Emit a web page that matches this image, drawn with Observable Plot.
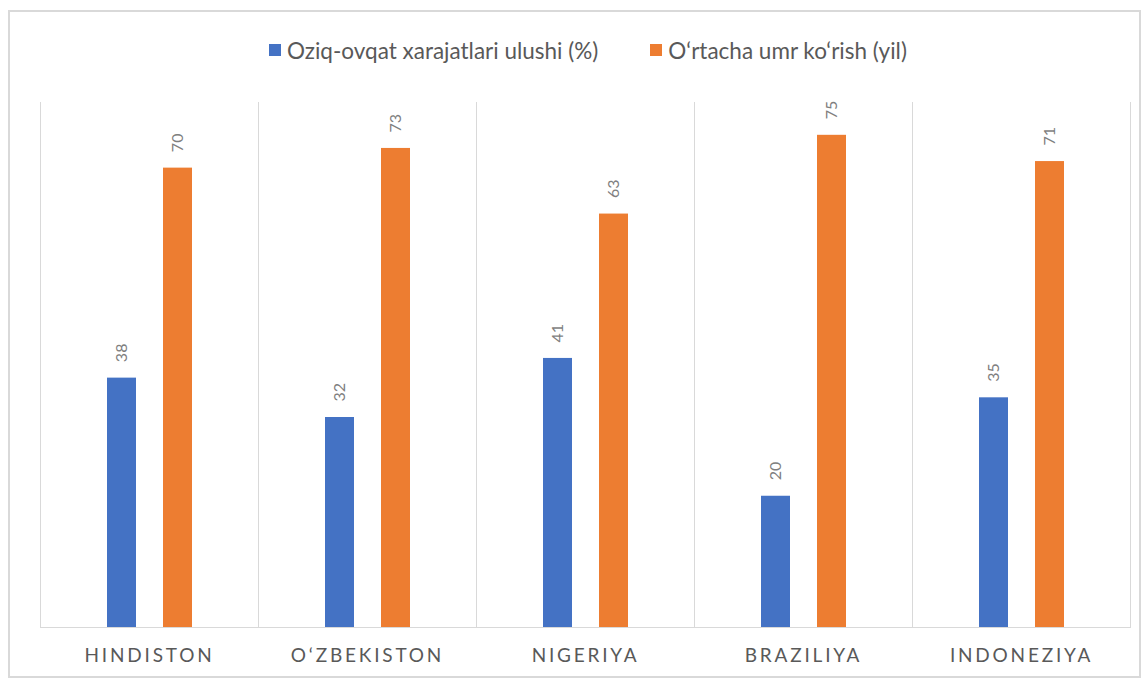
<!DOCTYPE html>
<html>
<head>
<meta charset="utf-8">
<script src="https://cdn.jsdelivr.net/npm/d3@7"></script>
<script src="https://cdn.jsdelivr.net/npm/@observablehq/plot@0.6"></script>
<style>
  html, body { margin: 0; padding: 0; background: #fff; }
  body { width: 1147px; height: 679px; position: relative; overflow: hidden; font-family: Lato, "Noto Sans", sans-serif; }
  #frame { position: absolute; left: 8px; top: 10px; width: 1133px; height: 668px; box-sizing: border-box; border: 2px solid #d9d9d9; }
  #legend { position: absolute; left: 269px; top: 35px; height: 30px; display: flex; align-items: center; font-size: 22.5px; color: #595959; white-space: nowrap; }
  #legend .item { display: flex; align-items: center; margin-right: 52px; }
  #legend .sw { width: 12px; height: 12px; margin-right: 6px; }
  #chart { position: absolute; left: 0; top: 80px; }
  #chart g[aria-label="fx-axis tick label"] text { letter-spacing: 2.8px; }
</style>
</head>
<body>
<div id="frame"></div>
<div id="legend"></div>
<div id="chart"></div>
<script>
const countries = ["HINDISTON", "O‘ZBEKISTON", "NIGERIYA", "BRAZILIYA", "INDONEZIYA"];
const seriesNames = ["Oziq-ovqat xarajatlari ulushi (%)", "O‘rtacha umr ko‘rish (yil)"];
const foodShare = [38, 32, 41, 20, 35];
const lifeExpectancy = [70, 73, 63, 75, 71];
const colors = ["#4472C4", "#ED7D31"];

const rows = countries.flatMap((c, i) => [
  {country: c, series: seriesNames[0], value: foodShare[i]},
  {country: c, series: seriesNames[1], value: lifeExpectancy[i]}
]);

const legend = document.getElementById("legend");
seriesNames.forEach((s, i) => {
  const item = document.createElement("div");
  item.className = "item";
  const sw = document.createElement("div");
  sw.className = "sw";
  sw.style.background = colors[i];
  const t = document.createElement("span");
  t.textContent = s;
  item.appendChild(sw);
  item.appendChild(t);
  legend.appendChild(item);
});

const chart = Plot.plot({
  width: 1147,
  height: 600,
  marginTop: 22,
  marginBottom: 53,
  marginLeft: 38,
  marginRight: 16,
  style: {fontFamily: "Lato, 'Noto Sans', sans-serif", background: "transparent"},
  fx: {domain: countries, padding: 0, label: null},
  x: {domain: seriesNames, paddingInner: 0.491, paddingOuter: 1.175, axis: null},
  y: {domain: [0, 80], axis: null},
  color: {domain: seriesNames, range: colors},
  marks: [
    Plot.frame({anchor: "left", stroke: "#d9d9d9", strokeOpacity: 1}),
    Plot.frame({anchor: "right", stroke: "#d9d9d9", strokeOpacity: 1}),
    Plot.ruleY([0], {stroke: "#d9d9d9"}),
    Plot.barY(rows, {fx: "country", x: "series", y: "value", fill: "series"}),
    Plot.text(rows, {
      fx: "country", x: "series", y: "value",
      text: d => String(d.value),
      rotate: -90, textAnchor: "start", dy: -16,
      fill: "#7f7f7f", fontSize: 16
    }),
    Plot.axisFx({anchor: "bottom", tickSize: 0, tickPadding: 21, fontSize: 19, fill: "#595959", label: null})
  ]
});
document.getElementById("chart").appendChild(chart);
</script>
</body>
</html>
